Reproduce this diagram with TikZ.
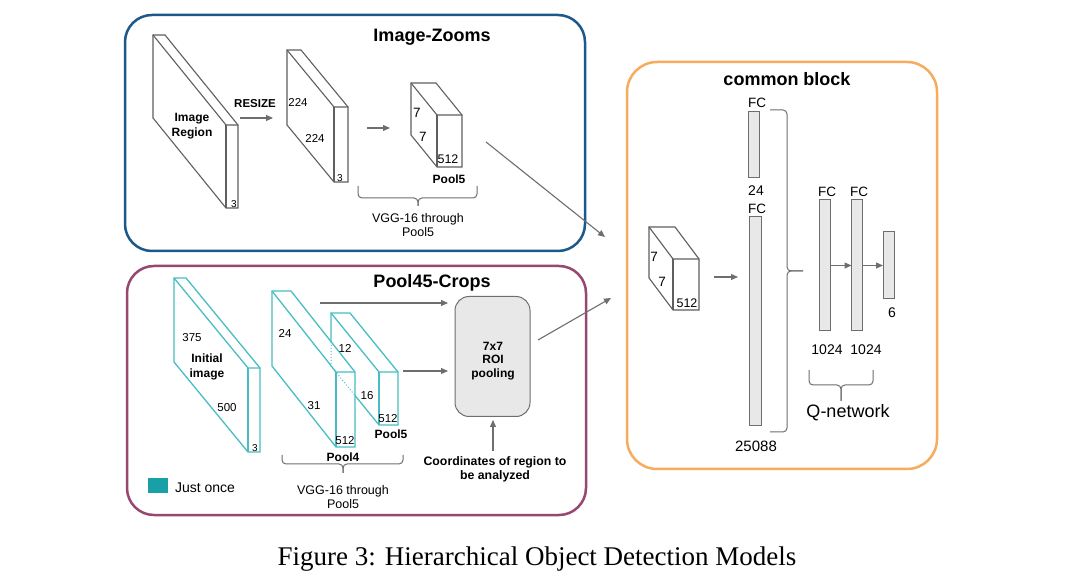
\documentclass[tikz,border=0pt]{standalone}
\usepackage{fontspec}
\setmainfont{Liberation Serif}
\setsansfont{Liberation Sans}
\usetikzlibrary{arrows.meta}

\newcommand{\slab}[7]{%
\draw[#7] (#1,#2) ++(0,#4) -- ++(0,-#4) -- ++(#3,0) -- ++(#5,#6) -- ++(0,#4) -- ++(-#3,0) -- cycle;
\draw[#7] (#1,#2) -- ++(#5,#6) -- ++(#3,0);
\draw[#7] (#1,#2) ++(#5,#6) -- ++(0,#4);}

\begin{document}
\begin{tikzpicture}[x=1pt,y=-1pt,
  ttl/.style={font=\sffamily\bfseries\fontsize{18}{21}\selectfont,inner sep=0pt},
  num/.style={font=\sffamily\fontsize{11.5}{13}\selectfont,inner sep=0pt},
  bnum/.style={font=\sffamily\bfseries\fontsize{12}{15}\selectfont,inner sep=0pt,align=center},
  vgg/.style={font=\sffamily\fontsize{12.5}{14}\selectfont,inner sep=0pt,align=center},
  fcnum/.style={font=\sffamily\fontsize{14}{16}\selectfont,inner sep=0pt},
  conn/.style={draw=lineGray,line width=1.1pt,-{Triangle[length=7pt,width=6pt]}},
  brcline/.style={draw=lineGray,line width=1pt,rounded corners=4pt},
  bar/.style={fill=barFill,draw=lineGray,line width=1pt,inner sep=0pt,outer sep=0pt}]
\definecolor{zoomBlue}{RGB}{28,88,138}
\definecolor{cropPurple}{RGB}{150,72,112}
\definecolor{blockOrange}{RGB}{246,172,92}
\definecolor{cropTeal}{RGB}{72,190,196}
\definecolor{onceTeal}{RGB}{24,160,166}
\definecolor{lineGray}{RGB}{110,110,110}
\definecolor{slabGray}{RGB}{95,95,95}
\definecolor{barFill}{RGB}{232,232,232}
\path[use as bounding box,fill=white] (0,0) rectangle (1080,577);

\draw[draw=zoomBlue,line width=2.5pt,rounded corners=27pt] (125,15) rectangle (585,251);
\draw[draw=cropPurple,line width=2.5pt,rounded corners=27pt] (127,266) rectangle (586,515);
\draw[draw=blockOrange,line width=2.5pt,rounded corners=30pt] (627,62) rectangle (937,469);

% Image-Zooms
\node[ttl] (izTitle) at (432,37) {Image-Zooms};
\slab{153}{35}{12}{83}{73}{90}{slabGray,line width=1.1pt}
\node[bnum] (regionTxt) at (192,126) {Image\\Region};
\node[num,font=\sffamily\fontsize{10}{12}\selectfont] (regionC) at (234,204) {3};
\node[bnum,font=\sffamily\bfseries\fontsize{11.5}{13}\selectfont] (resizeTxt) at (255,104) {RESIZE};
\coordinate (rsA) at (240,118);
\coordinate (rsB) at (273,118);
\draw[conn] (rsA) -- (rsB);
\slab{287}{50}{14}{75}{47}{57}{slabGray,line width=1.1pt}
\node[num] (resH) at (298,102) {224};
\node[num] (resW) at (315,138) {224};
\node[num,font=\sffamily\fontsize{10}{12}\selectfont] (resC) at (340,178) {3};
\coordinate (vgA) at (367,128);
\coordinate (vgB) at (390,128);
\draw[conn] (vgA) -- (vgB);
\slab{411}{83}{25}{52}{26}{32}{slabGray,line width=1.1pt}
\node[num,font=\sffamily\fontsize{13.5}{15}\selectfont] (izH) at (417,113) {7};
\node[num,font=\sffamily\fontsize{13.5}{15}\selectfont] (izW) at (423,137) {7};
\node[num,font=\sffamily\fontsize{12.5}{15}\selectfont] (izC) at (448,159) {512};
\node[bnum] (izPool) at (449,179) {Pool5};
\draw[brcline] (358,186) -- (358,198) -- (418,198) -- (418,206);
\draw[brcline] (477,186) -- (477,198) -- (418,198) -- (418,206);
\node[vgg] (izVgg) at (418,225) {VGG-16 through\\Pool5};
\coordinate (izOut) at (486,142);
\coordinate (cbInA) at (605,237);
\draw[conn] (izOut) -- (cbInA);

% Pool45-Crops
\node[ttl] (pcTitle) at (432,283) {Pool45-Crops};
\slab{174}{278}{12}{84}{74}{90}{cropTeal,line width=1.3pt}
\node[num] (initH) at (192,338) {375};
\node[bnum] (initTxt) at (207,367) {Initial\\image};
\node[num] (initW) at (227,408) {500};
\node[num,font=\sffamily\fontsize{10}{12}\selectfont] (initC) at (255,448) {3};
\slab{272}{291}{19}{75}{64}{81}{cropTeal,line width=1.3pt}
\draw[cropTeal,line width=1.3pt] (331,342) -- (331,313) -- (350,313) -- (398,372) -- (398,425) -- (379,425) -- (355,395.5);
\draw[cropTeal,line width=1.3pt] (331,313) -- (379,372) -- (398,372);
\draw[cropTeal,line width=1.3pt] (379,372) -- (379,425);
\draw[cropTeal,line width=1pt,dotted] (331,342) -- (331,366) -- (355,395.5);
\node[num] (p4H) at (285,333) {24};
\node[num] (p4W) at (314,406) {31};
\node[num] (p4C) at (345,441) {512};
\node[bnum] (p4Txt) at (343,457) {Pool4};
\node[num] (p5H) at (345,348) {12};
\node[num] (p5W) at (367,396) {16};
\node[num] (p5C) at (388,419) {512};
\node[bnum] (p5Txt) at (391,434) {Pool5};
\draw[brcline] (282,455) -- (282,464) -- (343,464) -- (343,473);
\draw[brcline] (403,455) -- (403,464) -- (343,464) -- (343,473);
\node[vgg] (pcVgg) at (343,497) {VGG-16 through\\Pool5};
\node[draw=lineGray,fill=barFill,line width=1pt,rounded corners=14pt,minimum width=75pt,minimum height=120pt,inner sep=0pt] (roi) at (492.5,356.5) {};
\node[bnum,font=\sffamily\bfseries\fontsize{12}{13.5}\selectfont] (roiTxt) at (493,361) {7x7\\ROI\\pooling};
\coordinate (p4A) at (320,303);
\coordinate (p4B) at (448,303);
\coordinate (p5A) at (403,371);
\coordinate (p5B) at (448,371);
\draw[conn] (p4A) -- (p4B);
\draw[conn] (p5A) -- (p5B);
\node[bnum,font=\sffamily\bfseries\fontsize{12.3}{14.5}\selectfont] (coordTxt) at (495,469.5) {Coordinates of region to\\be analyzed};
\coordinate (coA) at (493,451);
\coordinate (coB) at (493,420);
\draw[conn] (coA) -- (coB);
\coordinate (roiOut) at (538,340);
\coordinate (cbInB) at (611,298);
\draw[conn] (roiOut) -- (cbInB);
\fill[onceTeal] (148,478) rectangle (168,493);
\node[font=\sffamily\fontsize{14}{16}\selectfont,inner sep=0pt] (onceTxt) at (205,488) {Just once};

% common block
\node[ttl] (cbTitle) at (787,79) {common block};
\slab{649}{227}{26}{51}{24}{32}{slabGray,line width=1.1pt}
\node[num,font=\sffamily\fontsize{13.5}{15}\selectfont] (cbH) at (654,257) {7};
\node[num,font=\sffamily\fontsize{13.5}{15}\selectfont] (cbW) at (662,282) {7};
\node[num,font=\sffamily\fontsize{12.5}{15}\selectfont] (cbC) at (687,303) {512};
\coordinate (cbA) at (714,277);
\coordinate (cbB) at (738,277);
\draw[conn] (cbA) -- (cbB);
\node[bar,minimum width=11pt,minimum height=66pt] (fcA) at (753.5,145) {};
\node[bar,minimum width=12pt,minimum height=209pt] (fcB) at (755,321.5) {};
\node[fcnum,font=\sffamily\fontsize{13.5}{16}\selectfont] (fcAtop) at (757,103) {FC};
\node[fcnum] (fcAnum) at (756,191) {24};
\node[fcnum,font=\sffamily\fontsize{13.5}{16}\selectfont] (fcBtop) at (757,209) {FC};
\node[fcnum,font=\sffamily\fontsize{15}{17}\selectfont] (fcBnum) at (756,446) {25088};
\draw[brcline] (770,110) -- (787,110) -- (787,271) -- (803,271);
\draw[brcline] (770,432) -- (787,432) -- (787,271) -- (803,271);
\node[bar,minimum width=11pt,minimum height=131pt] (qA) at (825,265.5) {};
\node[bar,minimum width=11pt,minimum height=131pt] (qB) at (857,265.5) {};
\node[bar,minimum width=11pt,minimum height=67pt] (qC) at (888.5,265.5) {};
\draw[conn] (qA.east) -- (qB.west);
\draw[conn] (qB.east) -- (qC.west);
\node[fcnum,font=\sffamily\fontsize{13.5}{16}\selectfont] (qAtop) at (827,192) {FC};
\node[fcnum,font=\sffamily\fontsize{13.5}{16}\selectfont] (qBtop) at (859,192) {FC};
\node[fcnum] (qCnum) at (892,313) {6};
\node[fcnum] (qAnum) at (827,350) {1024};
\node[fcnum] (qBnum) at (866,350) {1024};
\draw[brcline] (809,370) -- (809,385) -- (841,385) -- (841,401);
\draw[brcline] (873,370) -- (873,385) -- (841,385) -- (841,401);
\node[font=\sffamily\fontsize{18}{21}\selectfont,inner sep=0pt] (qTxt) at (848,413) {Q-network};

\node[font=\rmfamily\fontsize{27}{30}\selectfont,anchor=base,inner sep=0pt] (caption) at (537,565) {Figure 3: Hierarchical Object Detection Models};
\end{tikzpicture}
\end{document}
